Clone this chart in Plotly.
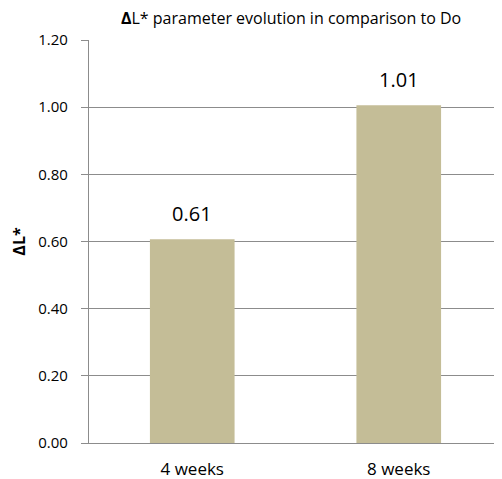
import plotly.graph_objects as go

categories = ["4 weeks", "8 weeks"]
values = [0.607, 1.006]
labels = ["0.61", "1.01"]
y_ticks = [0.0, 0.2, 0.4, 0.6, 0.8, 1.0, 1.2]
y_tick_text = ["0.00", "0.20", "0.40", "0.60", "0.80", "1.00", "1.20"]

grid = "#8c8c8c"
font = "Open Sans"

fig = go.Figure()
fig.add_trace(go.Bar(
    x=categories, y=values,
    marker=dict(color="#C4BD97", line=dict(width=0)),
    hoverinfo="skip",
))

for c, v, t in zip(categories, values, labels):
    fig.add_annotation(x=c, y=v, text=t, showarrow=False, yanchor="bottom",
                       yshift=10, font=dict(family=font, size=20, color="#000000"))

# page body has an 8px default margin; size the figure to fit the 502x479 window
fig.update_layout(
    width=494, height=471,
    margin=dict(l=81, r=0, t=32, b=36),
    plot_bgcolor="white", paper_bgcolor="white",
    bargap=0.59,
    showlegend=False,
    title=dict(text="<b>Δ</b>L* parameter evolution in comparison to Do",
               x=0.573, xanchor="center", y=0.978, yanchor="middle",
               font=dict(family=font, size=16, color="#000000")),
)
fig.update_yaxes(
    range=[0, 1.2], tickvals=y_ticks, ticktext=y_tick_text,
    showgrid=True, gridcolor=grid, gridwidth=1.3,
    showline=True, linecolor=grid, linewidth=1.3,
    ticks="outside", ticklen=7, tickcolor=grid, tickwidth=1.3,
    tickfont=dict(family=font, size=15, color="#000000"),
    ticklabelstandoff=10,
    zeroline=False, automargin=False,
    title=dict(text="<b>ΔL*</b>", font=dict(family=font, size=16, color="#000000"), standoff=13),
)
fig.update_xaxes(
    showline=True, linecolor=grid, linewidth=1.3,
    ticks="", tickfont=dict(family=font, size=17, color="#000000"),
    ticklabelstandoff=10, automargin=False,
)

fig.write_html("out.html")
